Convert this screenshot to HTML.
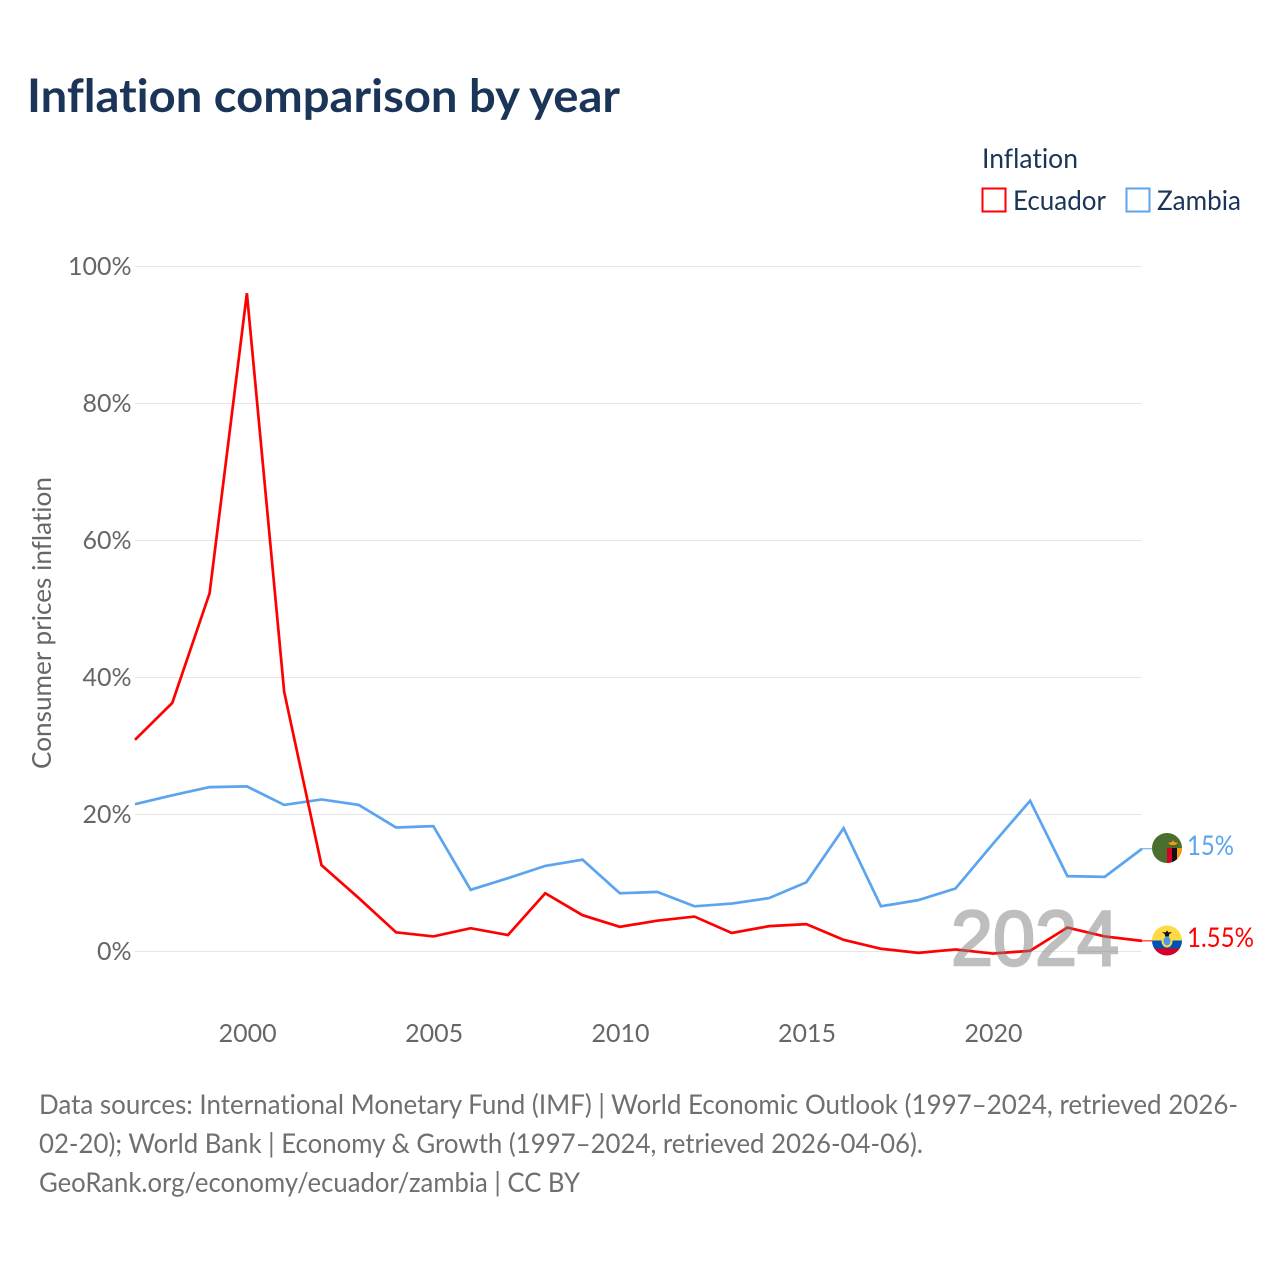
<!DOCTYPE html>
<html lang="en">
<head>
<meta charset="utf-8">
<title>Inflation comparison by year</title>
<style>
html,body{margin:0;padding:0;background:#fff;width:1280px;height:1280px;overflow:hidden}
svg{display:block}
text{font-family:"Lato","Carlito","Liberation Sans",sans-serif;font-variant-ligatures:none}
</style>
</head>
<body>
<svg id="chart" width="1280" height="1280" viewBox="0 0 1280 1280" xmlns="http://www.w3.org/2000/svg">
  <defs>
    <clipPath id="flag-clip-z"><circle cx="1167" cy="848" r="15"/></clipPath>
    <clipPath id="flag-clip-e"><circle cx="1167" cy="940.5" r="15"/></clipPath>
  </defs>
  <text x="27" y="112" font-size="46" font-weight="700" fill="#1a3557" textLength="593" lengthAdjust="spacingAndGlyphs">Inflation comparison by year</text>

  <g>
    <text x="982" y="168" font-size="27" fill="#1a3557" textLength="96" lengthAdjust="spacingAndGlyphs">Inflation</text>
    <rect x="982.500" y="188.500" width="23" height="23" fill="none" stroke="#ff0000" stroke-width="2"/>
    <text x="1013" y="210" font-size="27" fill="#1a3557" textLength="93" lengthAdjust="spacingAndGlyphs">Ecuador</text>
    <rect x="1126.500" y="188.500" width="23" height="23" fill="none" stroke="#5ba4ee" stroke-width="2"/>
    <text x="1157" y="210" font-size="27" fill="#1a3557" textLength="84" lengthAdjust="spacingAndGlyphs">Zambia</text>
  </g>

  <g id="grid"></g>
  <g id="yticks"></g>
  <g id="xticks"></g>
  <text transform="translate(51 623) rotate(-90)" text-anchor="middle" font-size="26" fill="#666" textLength="292" lengthAdjust="spacingAndGlyphs">Consumer prices inflation</text>

  <g id="lines"></g>

  <text x="1035" y="965" text-anchor="middle" font-size="78" fill="#7f7f7f" stroke="#7f7f7f" stroke-width="2.5" opacity="0.5" textLength="168" lengthAdjust="spacingAndGlyphs" style="font-family:'Liberation Sans',sans-serif">2024</text>

  <g id="flag-zambia" clip-path="url(#flag-clip-z)">
    <rect x="1152" y="833" width="30" height="30" fill="#496e2d"/>
    <rect x="1167" y="848" width="5" height="15" fill="#d80027"/>
    <rect x="1172" y="848" width="5" height="15" fill="#111"/>
    <rect x="1177" y="848" width="5" height="15" fill="#ff9811"/>
    <path d="M1168 843l4-1 1-2 1 2 4 1-3 2h-4z" fill="#ff9811"/>
  </g>
  <g id="flag-ecuador" clip-path="url(#flag-clip-e)">
    <rect x="1152" y="925.500" width="30" height="15" fill="#ffda44"/>
    <rect x="1152" y="940.500" width="30" height="8" fill="#0052b4"/>
    <rect x="1152" y="948.500" width="30" height="7" fill="#d80027"/>
    <ellipse cx="1167" cy="941" rx="5.500" ry="6.500" fill="#ffda44"/>
    <ellipse cx="1167" cy="941" rx="3.500" ry="4.500" fill="#4d9be8"/>
    <path d="M1162 932l3.500 .5 1.500-2 1.500 2 3.500-.5-3 2.500v2h-4v-2z" fill="#111"/>
  </g>

  <text id="end-z" x="1187" y="855" font-size="27" fill="#5ba4ee" textLength="47" lengthAdjust="spacingAndGlyphs"></text>
  <text id="end-e" x="1187" y="947" font-size="27" fill="#ff0000" textLength="67" lengthAdjust="spacingAndGlyphs"></text>

  <g font-size="27" fill="#6f6f6f">
    <text x="39" y="1114" textLength="1199" lengthAdjust="spacingAndGlyphs">Data sources: International Monetary Fund (IMF) | World Economic Outlook (1997–2024, retrieved 2026-</text>
    <text x="39" y="1153" textLength="884" lengthAdjust="spacingAndGlyphs">02-20); World Bank | Economy &amp; Growth (1997–2024, retrieved 2026-04-06).</text>
    <text x="39" y="1192" textLength="541" lengthAdjust="spacingAndGlyphs">GeoRank.org/economy/ecuador/zambia | CC BY</text>
  </g>
</svg>
<script>
const years = [1997,1998,1999,2000,2001,2002,2003,2004,2005,2006,2007,2008,2009,2010,2011,2012,2013,2014,2015,2016,2017,2018,2019,2020,2021,2022,2023,2024];
const ecuador = [30.9,36.3,52.3,96.1,37.9,12.6,7.8,2.8,2.2,3.4,2.4,8.5,5.3,3.6,4.5,5.1,2.7,3.7,4.0,1.7,0.4,-0.2,0.3,-0.3,0.1,3.5,2.2,1.55];
const zambia = [21.5,22.8,24.0,24.1,21.4,22.2,21.4,18.1,18.3,9.0,10.7,12.5,13.4,8.5,8.7,6.6,7.0,7.8,10.1,18.0,6.6,7.5,9.2,15.7,22.0,11.0,10.9,15.0];
const yTicks = [0,20,40,60,80,100];
const xTicks = [2000,2005,2010,2015,2020];
const NS = 'http://www.w3.org/2000/svg';
function xScale(year){ return 135 + (year - 1997) * (1142 - 135) / 27; }
function yScale(v){ return 951.5 - v * 6.85; }
function make(tag, attrs, parent){
  const el = document.createElementNS(NS, tag);
  for (const k in attrs) el.setAttribute(k, attrs[k]);
  parent.appendChild(el);
  return el;
}
const grid = document.getElementById('grid');
const yG = document.getElementById('yticks');
const xG = document.getElementById('xticks');
const linesG = document.getElementById('lines');
yTicks.forEach(function(t){
  const line = make('line', {x1:135, x2:1141.5, y1:yScale(t), y2:yScale(t), stroke:'#e6e6e6', 'stroke-width':1}, grid);
  
  
  const label = make('text', {x:131.5, y:yScale(t)+8.5, 'text-anchor':'end', 'font-size':25, fill:'#666'}, yG);
  
  
  label.textContent = t + '%';
});
xTicks.forEach(function(t){
  const label = make('text', {x:xScale(t)+0.7, y:1042, 'text-anchor':'middle', 'font-size':25, fill:'#666'}, xG);
  
  
  label.textContent = t;
});
function pathFor(values){
  return values.map(function(v,i){ return (i ? 'L' : 'M') + xScale(years[i]).toFixed(2) + ' ' + yScale(v).toFixed(2); }).join('');
}
const zLine = make('path', {d:pathFor(zambia), fill:'none', stroke:'#5ba4ee', 'stroke-width':2.7, 'stroke-linejoin':'miter'}, linesG);


const eLine = make('path', {d:pathFor(ecuador), fill:'none', stroke:'#ff0000', 'stroke-width':2.7, 'stroke-linejoin':'miter'}, linesG);


const lastZ = zambia[zambia.length-1];
const lastE = ecuador[ecuador.length-1];
const zLead = make('line', {x1:1142, x2:1152, y1:yScale(lastZ), y2:yScale(lastZ), stroke:'#5ba4ee', 'stroke-width':1}, linesG);


const eLead = make('line', {x1:1142, x2:1152, y1:yScale(lastE), y2:yScale(lastE), stroke:'#ff0000', 'stroke-width':1}, linesG);


document.getElementById('end-z').textContent = lastZ + '%';
document.getElementById('end-e').textContent = lastE + '%';
</script>
</body>
</html>
